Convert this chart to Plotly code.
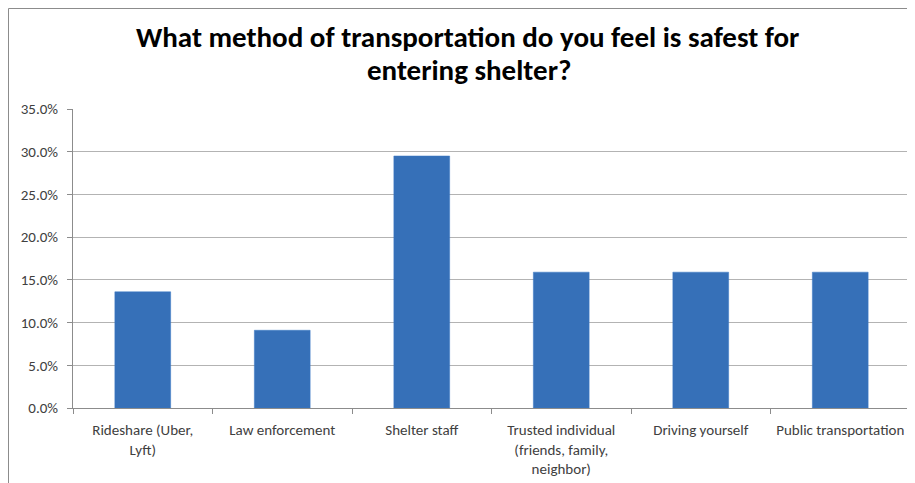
import plotly.graph_objects as go

categories = [
    "Rideshare (Uber,<br>Lyft)",
    "Law enforcement",
    "Shelter staff",
    "Trusted individual<br>(friends, family,<br>neighbor)",
    "Driving yourself",
    "Public transportation",
]
values = [0.136, 0.091, 0.295, 0.159, 0.159, 0.159]
title_lines = ["What method of transportation do you feel is safest for", "entering shelter?"]

OFF = 8  # page body margin
W, H = 915 - OFF, 483 - OFF
ML, MR, MT = 73 - OFF, 5, 109 - OFF
PH = 299
MB = H - MT - PH
PW = W - ML - MR

fig = go.Figure()
fig.add_trace(go.Bar(
    x=categories, y=values,
    marker=dict(color="#3670b8", line=dict(color="#3a78c4", width=0.5)),
    hoverinfo="x+y",
))

font_family = "Carlito, Calibri, Lato, 'Open Sans', sans-serif"

fig.update_layout(
    width=W, height=H,
    margin=dict(l=ML, r=MR, t=MT, b=MB, autoexpand=False),
    paper_bgcolor="white", plot_bgcolor="white",
    bargap=0.6,
    showlegend=False,
    font=dict(family=font_family, size=14, color="#404040"),
    xaxis=dict(
        type="category",
        showline=True, linecolor="#8c8c8c", linewidth=1,
        ticks="outside", ticklen=5, tickcolor="#8c8c8c",
        tickson="boundaries",
        showgrid=False,
        tickangle=0, automargin=False,
        ticklabelstandoff=8,
        tickfont=dict(size=15, color="#404040"),
    ),
    yaxis=dict(
        range=[0, 0.35], dtick=0.05, tickformat=".1%",
        showline=True, linecolor="#8c8c8c", linewidth=1,
        ticks="outside", ticklen=5, tickcolor="#8c8c8c",
        showgrid=True, gridcolor="#b3b3b3", gridwidth=1,
        zeroline=False, automargin=False,
        ticklabelstandoff=6,
        tickfont=dict(size=15, color="#404040"),
    ),
)

# title lines
fig.add_annotation(text="<b>" + title_lines[0] + "</b>", x=(467 - 73) / PW, xref="paper",
                   y=1 + (MT - (37 - OFF)) / PH, yref="paper", yanchor="middle",
                   xanchor="center", showarrow=False, borderpad=0,
                   font=dict(family=font_family, size=29, color="black"))
fig.add_annotation(text="<b>" + title_lines[1] + "</b>", x=(469 - 73) / PW, xref="paper",
                   y=1 + (MT - (70 - OFF)) / PH, yref="paper", yanchor="middle",
                   xanchor="center", showarrow=False, borderpad=0,
                   font=dict(family=font_family, size=29, color="black"))

# chart border
fig.add_shape(type="rect", xref="paper", yref="paper",
              x0=(8.5 - 73) / PW, x1=1 + 20 / PW,
              y0=-(MB + 20) / PH, y1=1 + (MT - 0.5) / PH,
              line=dict(color="#8c8c8c", width=1), fillcolor="rgba(0,0,0,0)", layer="below")

fig.write_html("out.html")
